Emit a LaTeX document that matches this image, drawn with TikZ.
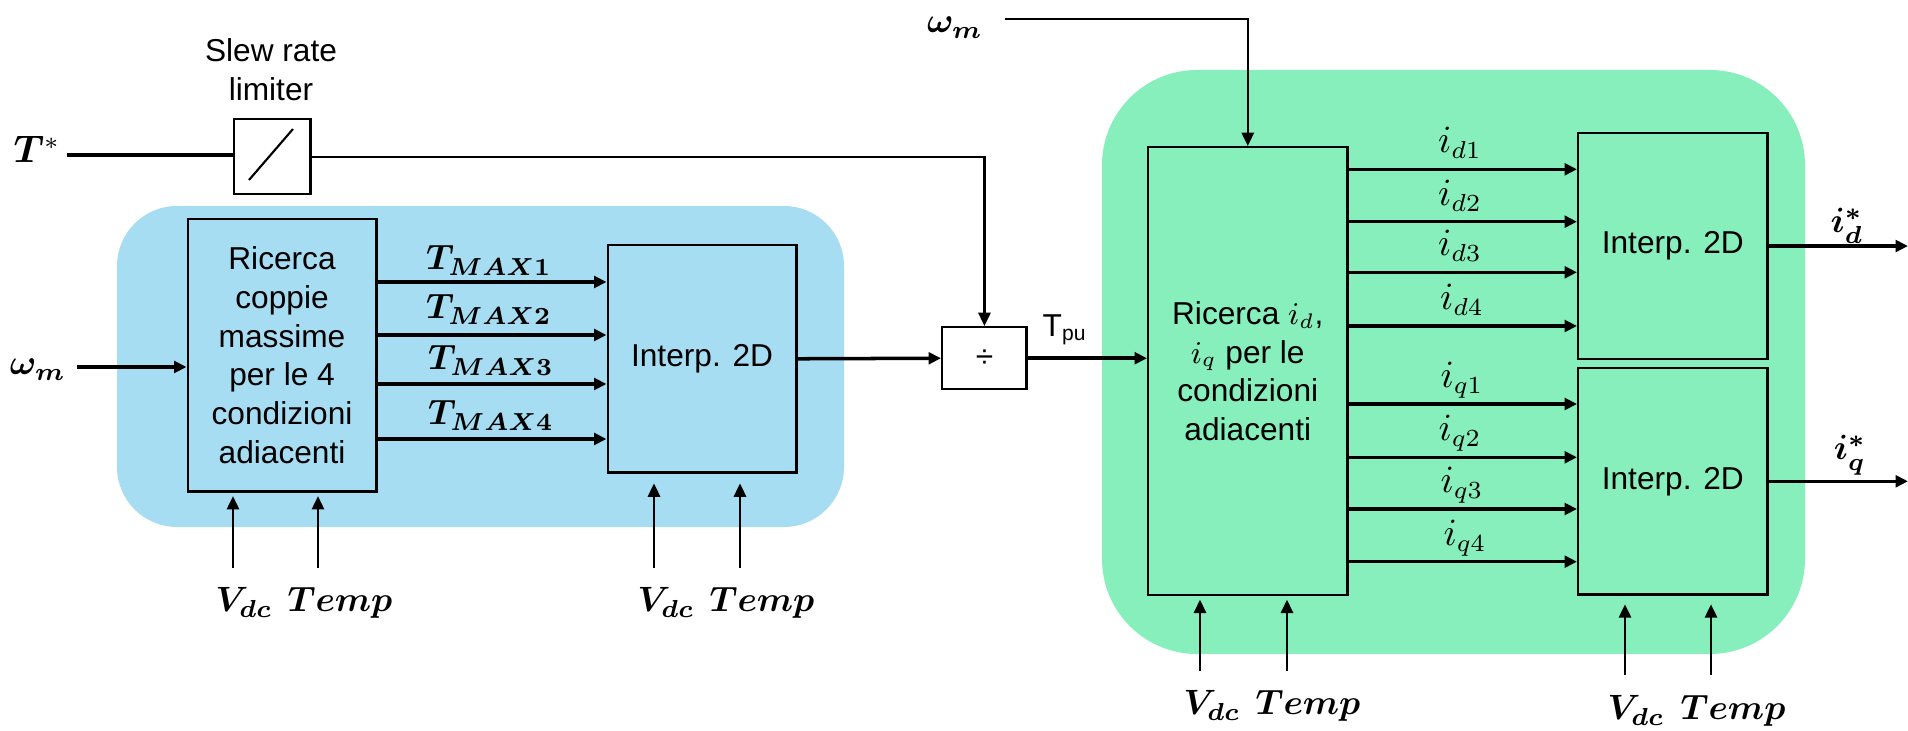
\documentclass[tikz,border=0pt]{standalone}
\usepackage[no-math]{fontspec}
\setmainfont{Liberation Sans}
\usepackage{amsmath,bm}
\usetikzlibrary{arrows.meta,calc}
\definecolor{bluebg}{RGB}{166,221,242}
\definecolor{greenbg}{RGB}{134,239,187}
\begin{document}
\begin{tikzpicture}[x=0.01cm,y=-0.01cm,
  blk/.style={draw,line width=0.7pt,inner sep=0pt,anchor=north west,
    font=\fontsize{9}{11}\selectfont,align=center},
  txt/.style={font=\fontsize{9}{11}\selectfont,align=center,inner sep=0pt},
  mlab/.style={font=\fontsize{10}{12}\selectfont\boldmath,inner sep=0pt,anchor=base},
  tlab/.style={font=\fontsize{10}{12}\selectfont\boldmath,inner sep=0pt,anchor=base},
  ilab/.style={font=\fontsize{10.5}{12}\selectfont,inner sep=0pt,anchor=base},
  arr/.style={line width=1pt,-{Triangle[length=3.5pt,width=3.3pt]}},
  tarr/.style={line width=0.6pt,-{Triangle[length=3.8pt,width=3.5pt]}},
  ln/.style={line width=0.7pt},
]
\useasboundingbox (0,0) rectangle (1908,731);
% backgrounds
\fill[bluebg, rounded corners=0.6cm] (117,206) rectangle (844,527);
\fill[greenbg, rounded corners=0.95cm] (1102,70) rectangle (1805,654);

% blocks
\node[blk,minimum width=0.764cm,minimum height=0.753cm] (slew) at (232.6,117.7) {};
\draw[line width=0.6pt] (249,180) -- (293,129);
\node[txt] (slewlbl) at (271,70) {Slew rate\\limiter};
\node[blk,minimum width=1.885cm,minimum height=2.72cm] (ric) at (186.5,218)
  {Ricerca\\coppie\\massime\\per le 4\\condizioni\\adiacenti};
\node[blk,minimum width=1.885cm,minimum height=2.27cm] (int1) at (606.5,244) {Interp. 2D};
\node[blk,minimum width=0.844cm,minimum height=0.62cm] (div) at (941,326) {÷};
\node[blk,minimum width=1.99cm,minimum height=4.475cm] (ric2) at (1147,146)
  {Ricerca $i_d$,\\$i_q$ per le\\condizioni\\adiacenti};
\node[blk,minimum width=1.89cm,minimum height=2.255cm] (int2) at (1577,132) {Interp. 2D};
\node[blk,minimum width=1.89cm,minimum height=2.26cm] (int3) at (1577,367) {Interp. 2D};

% T* path
\node[ilab] (tstar) at (37,163) {$\bm{T}^{*}$};
\coordinate (tin) at (67,155);
\draw[line width=0.9pt] (tin -| tin) -- (tin -| slew.west);
\draw[tarr] (slew.east) -| (div.north);
\draw[arr] (int1.east) -- (div.west);
\draw[arr] (div.east) -- (div.east -| ric2.west);
\node[txt,anchor=base west] (tpu) at (1042,337) {T\textsubscript{pu}};

% omega left
\node[mlab] (wm1) at (38,375) {$\omega_m$};
\coordinate (wm1in) at (77,367);
\draw[arr] (wm1in) -- (wm1in -| ric.west);

% TMAX arrows
\foreach \o/\n in {64/1,117/2,166/3,221/4}{
  \draw[arr] ($(ric.north east)+(0,\o)$) coordinate (tm\n) -- (tm\n -| int1.west);
}
\node[tlab] (tl1) at (489,270) {$T_{MAX1}$};
\node[tlab] (tl2) at (489,319) {$T_{MAX2}$};
\node[tlab] (tl3) at (491,370) {$T_{MAX3}$};
\node[tlab] (tl4) at (491,425) {$T_{MAX4}$};

% Vdc / Temp blue
\coordinate (vb1) at (233,568);
\coordinate (vb2) at (318,568);
\coordinate (vb3) at (654,568);
\coordinate (vb4) at (740,568);
\draw[tarr,shorten >=1pt] (vb1) -- (vb1 |- ric.south);
\draw[tarr,shorten >=1pt] (vb2) -- (vb2 |- ric.south);
\draw[tarr,shorten >=2.8pt] (vb3) -- (vb3 |- int1.south);
\draw[tarr,shorten >=2.8pt] (vb4) -- (vb4 |- int1.south);
\node[mlab] (lv1) at (244,612) {$V_{dc}$};
\node[mlab] (lt1) at (340,612) {$Temp$};
\node[mlab] (lv2) at (666,612) {$V_{dc}$};
\node[mlab] (lt2) at (762,612) {$Temp$};

% omega top
\node[mlab] (wm2) at (955,33) {$\omega_m$};
\coordinate (wtop) at (1005,19);
\draw[tarr] (wtop) -| (ric2.north);

% id, iq arrows
\foreach \o/\n in {23.3/1,75.7/2,126.3/3,180/4}{
  \draw[arr] ($(ric2.north east)+(0,\o)$) coordinate (id\n) -- (id\n -| int2.west);
}
\foreach \o/\n in {258/1,311.3/2,363/3,415.7/4}{
  \draw[arr] ($(ric2.north east)+(0,\o)$) coordinate (iq\n) -- (iq\n -| int3.west);
}
\node[ilab] (lid1) at (1460,153) {$i_{d1}$};
\node[ilab] (lid2) at (1460,206) {$i_{d2}$};
\node[ilab] (lid3) at (1460,256) {$i_{d3}$};
\node[ilab] (lid4) at (1462,310) {$i_{d4}$};
\node[ilab] (liq1) at (1462,388) {$i_{q1}$};
\node[ilab] (liq2) at (1460,441) {$i_{q2}$};
\node[ilab] (liq3) at (1462,493) {$i_{q3}$};
\node[ilab] (liq4) at (1465,546) {$i_{q4}$};

% outputs
\coordinate (oend) at (1908,0);
\draw[arr] (int2.east) -- (int2.east -| oend);
\draw[arr] (int3.east) -- (int3.east -| oend);
\node[mlab] (lod) at (1847,233) {$i_d^{*}$};
\node[mlab] (loq) at (1850,460) {$i_q^{*}$};

% Vdc / Temp green
\coordinate (vg1) at (1200,671);
\coordinate (vg2) at (1287,671);
\coordinate (vg3) at (1625,675);
\coordinate (vg4) at (1711,675);
\draw[tarr,shorten >=1pt] (vg1) -- (vg1 |- ric2.south);
\draw[tarr,shorten >=1pt] (vg2) -- (vg2 |- ric2.south);
\draw[tarr,shorten >=2.5pt] (vg3) -- (vg3 |- int3.south);
\draw[tarr,shorten >=2.5pt] (vg4) -- (vg4 |- int3.south);
\node[mlab] (lv3) at (1212,715) {$V_{dc}$};
\node[mlab] (lt3) at (1308,715) {$Temp$};
\node[mlab] (lv4) at (1636,720) {$V_{dc}$};
\node[mlab] (lt4) at (1733,720) {$Temp$};
\end{tikzpicture}
\end{document}
